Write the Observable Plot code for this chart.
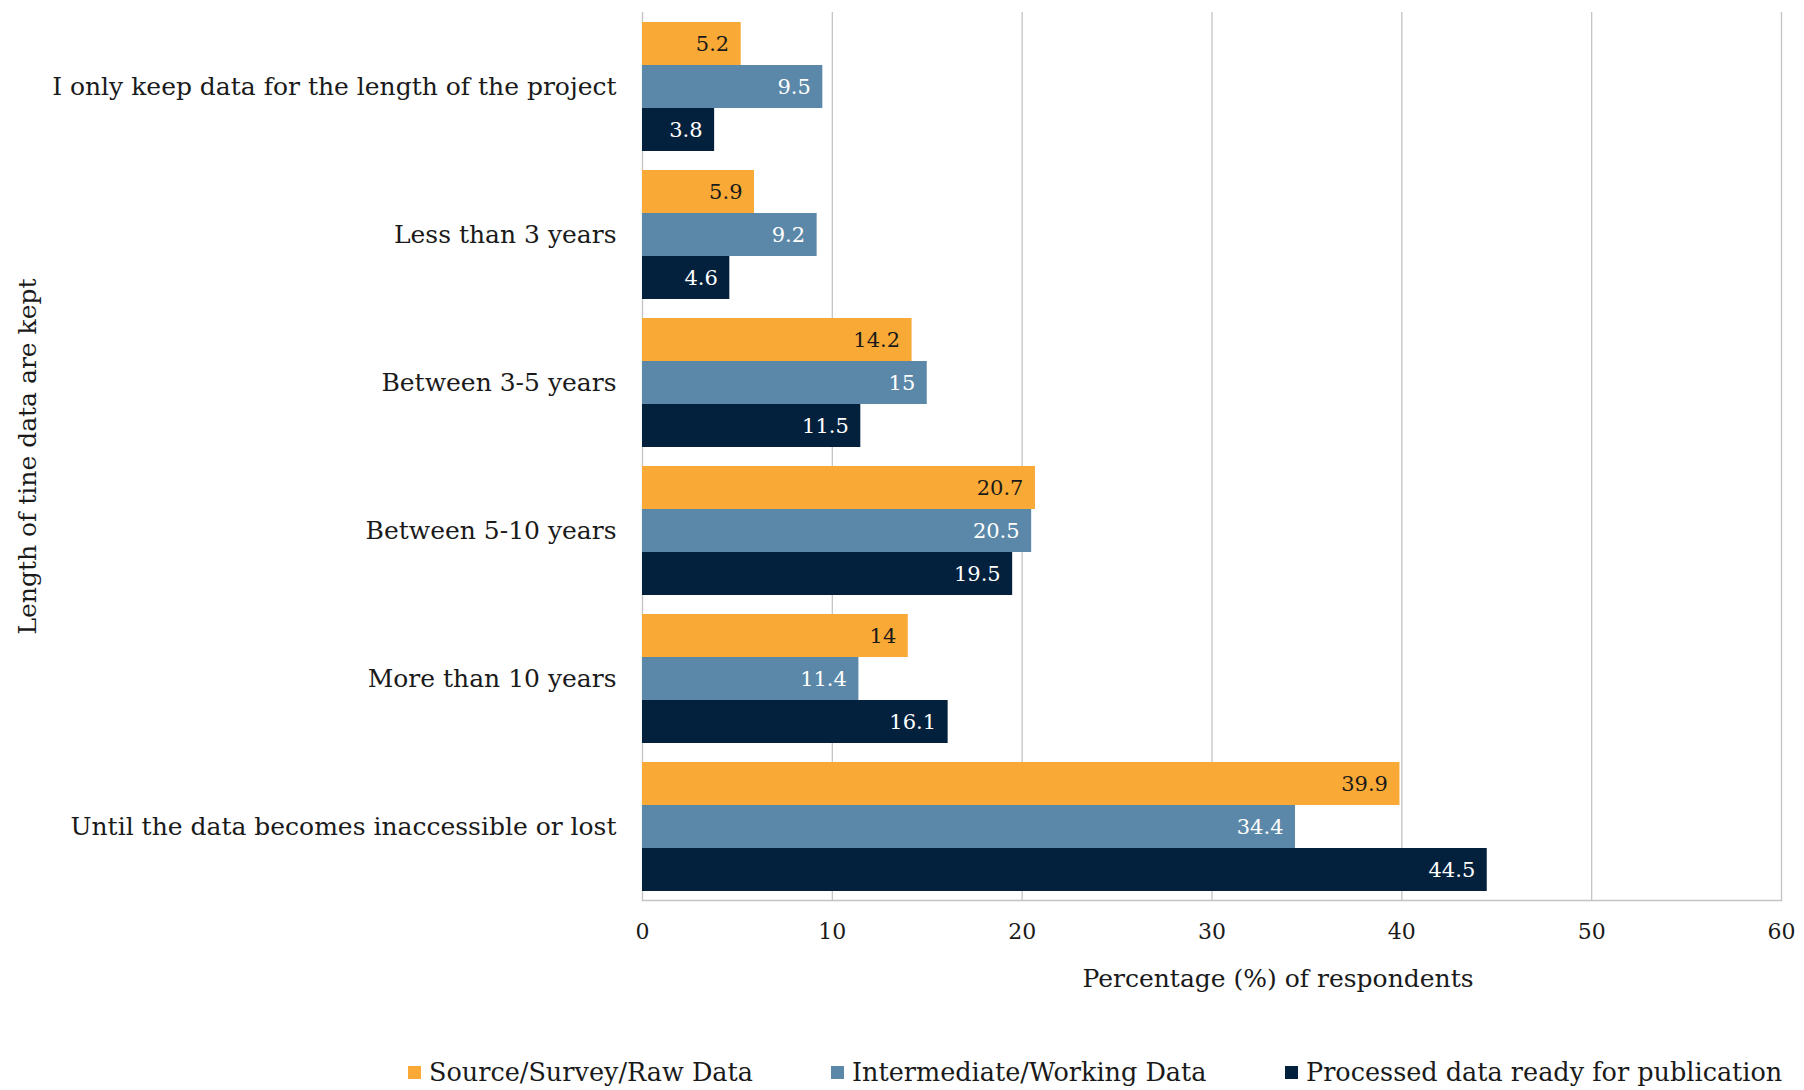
<!DOCTYPE html>
<html>
<head>
<meta charset="utf-8">
<script src="https://cdn.jsdelivr.net/npm/d3@7"></script>
<script src="https://cdn.jsdelivr.net/npm/@observablehq/plot@0.6"></script>
<style>
  body { margin: 0; background: #fff; }
  #wrap { position: relative; width: 1804px; height: 1090px; font-family: "DejaVu Serif", serif; }
  .lg { position: absolute; top: 1057px; display: flex; align-items: center; font-size: 25.5px; color: #1a1a1a; white-space: nowrap; }
  .sw { width: 13px; height: 13px; margin-right: 8px; }
</style>
</head>
<body>
<div id="wrap"></div>
<script>
const categories = [
  "I only keep data for the length of the project",
  "Less than 3 years",
  "Between 3-5 years",
  "Between 5-10 years",
  "More than 10 years",
  "Until the data becomes inaccessible or lost"
];
const series = ["Source/Survey/Raw Data", "Intermediate/Working Data", "Processed data ready for publication"];
const rawValues = [5.2, 5.9, 14.2, 20.7, 14, 39.9];
const workingValues = [9.5, 9.2, 15, 20.5, 11.4, 34.4];
const processedValues = [3.8, 4.6, 11.5, 19.5, 16.1, 44.5];
const xTicks = [0, 10, 20, 30, 40, 50, 60];
const xLabel = "Percentage (%) of respondents";
const yLabel = "Length of tine data are kept";
const colors = ["#F9A935", "#5B88A8", "#03203D"];
const legendLeft = [408, 831, 1285];

const seriesValues = [rawValues, workingValues, processedValues];
const data = [];
categories.forEach((c, i) => series.forEach((s, j) => data.push({category: c, series: s, value: seriesValues[j][i]})));

const grid = "#c4c4c4";
const chart = Plot.plot({
  width: 1804,
  height: 1040,
  marginLeft: 642,
  marginRight: 23,
  marginTop: 9,
  marginBottom: 138,
  style: {fontFamily: "DejaVu Serif", fontSize: "21px", color: "#1a1a1a", background: "#fff"},
  x: {domain: [0, 60], axis: null},
  y: {domain: series, axis: null, paddingInner: 0, paddingOuter: 0.2},
  fy: {domain: categories, padding: 0, axis: null},
  color: {domain: series, range: colors},
  marks: [
    Plot.gridX(xTicks, {stroke: grid, strokeOpacity: 1, strokeWidth: 1.3}),
    Plot.barX(data, {x: "value", y: "series", fy: "category", fill: "series"}),
    Plot.text(data.filter(d => d.series === series[0]), {x: "value", y: "series", fy: "category", text: d => String(d.value), textAnchor: "end", dx: -12, fill: "#1a1a1a", fontSize: 21}),
    Plot.text(data.filter(d => d.series !== series[0]), {x: "value", y: "series", fy: "category", text: d => String(d.value), textAnchor: "end", dx: -12, fill: "#fff", fontSize: 21}),
    Plot.frame({anchor: "bottom", stroke: grid, strokeWidth: 1.5, facetAnchor: "bottom"}),
    Plot.axisX(xTicks, {anchor: "bottom", tickSize: 0, tickPadding: 23, label: null, fontSize: 22}),
    Plot.axisFy({anchor: "left", tickSize: 0, tickPadding: 26, label: yLabel, labelAnchor: "center", labelOffset: 624, fontSize: 25}),
    Plot.text([xLabel], {frameAnchor: "bottom", dy: 86, dx: 66, facetAnchor: "bottom", fontSize: 25, fill: "#1a1a1a"})
  ]
});
const wrap = document.getElementById("wrap");
wrap.appendChild(chart);
series.forEach((s, j) => {
  const item = document.createElement("div");
  item.className = "lg";
  item.style.left = legendLeft[j] + "px";
  const sw = document.createElement("span");
  sw.className = "sw";
  sw.style.background = colors[j];
  const t = document.createElement("span");
  t.textContent = s;
  item.appendChild(sw);
  item.appendChild(t);
  wrap.appendChild(item);
});
</script>
</body>
</html>
